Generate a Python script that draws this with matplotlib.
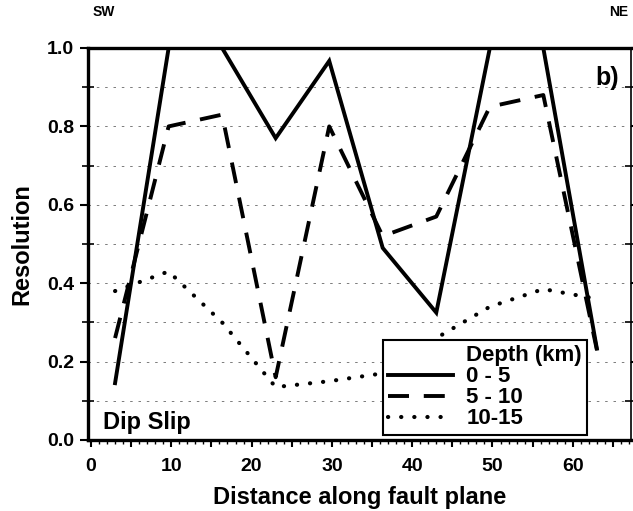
import matplotlib
matplotlib.use("Agg")
import matplotlib.pyplot as plt
from matplotlib.lines import Line2D
from matplotlib.ticker import MultipleLocator, FuncFormatter

plt.rcParams['font.family'] = ['Liberation Sans', 'DejaVu Sans']
plt.rcParams['font.weight'] = 'bold'

# Data
distance = [3.0, 9.67, 16.33, 23.0, 29.67, 36.33, 43.0, 49.67, 56.33, 63.0]
res_0_5 = [0.145, 1.0, 1.0, 0.77, 0.967, 0.49, 0.325, 1.0, 1.0, 0.233]
res_5_10 = [0.26, 0.80, 0.83, 0.16, 0.80, 0.52, 0.57, 0.85, 0.88, 0.23]
res_10_15 = [0.38, 0.43, 0.30, 0.135, 0.15, 0.17, 0.26, 0.34, 0.385, 0.36]
series_labels = ["0 - 5", "5 - 10", "10-15"]
legend_title = "Depth (km)"

fig = plt.figure(figsize=(6.33, 5.11), dpi=100)
ax = fig.add_axes([88/633, 1-440/511, 543/633, 392/511])

# grid lines at each 0.1
for gy in [0.1, 0.2, 0.3, 0.4, 0.5, 0.6, 0.7, 0.8, 0.9]:
    ax.axhline(gy, color='0.4', lw=0.6, ls=(0, (3, 7)), zorder=1)

l1, = ax.plot(distance, res_0_5, color='black', lw=2.8, ls='-', zorder=3,
              solid_joinstyle='miter')
l2, = ax.plot(distance, res_5_10, color='black', lw=2.8, ls=(0, (5.4, 3.8)), zorder=3)
l3, = ax.plot(distance, res_10_15, color='black', lw=3.0, ls=(0, (0.05, 3.1)),
              dash_capstyle='round', zorder=3)

ax.set_xlim(-0.37, 67.25)
ax.set_ylim(0, 1.0)

for side in ['left', 'bottom', 'top']:
    ax.spines[side].set_linewidth(2.4)
ax.spines['right'].set_linewidth(1.2)

ax.xaxis.set_major_locator(MultipleLocator(5))
ax.xaxis.set_minor_locator(MultipleLocator(1))
ax.xaxis.set_major_formatter(FuncFormatter(lambda v, p: f"{int(round(v))}" if int(round(v)) % 10 == 0 else ""))
ax.yaxis.set_major_locator(MultipleLocator(0.2))
ax.yaxis.set_minor_locator(MultipleLocator(0.1))
ax.yaxis.set_major_formatter(FuncFormatter(lambda v, p: f"{v:.1f}"))

ax.tick_params(axis='x', which='major', direction='out', length=5, width=1.5,
               labelsize=14, pad=8, top=False)
ax.tick_params(axis='x', which='minor', direction='out', length=3, width=1.0, top=False)
ax.tick_params(axis='y', which='major', direction='out', length=6, width=1.5,
               labelsize=14, pad=4)
ax.tick_params(axis='y', which='minor', direction='inout', length=8, width=1.2)
ax.tick_params(axis='y', which='both', right=True)

ax.set_xlabel("Distance along fault plane", fontsize=17, fontweight='bold', labelpad=8)
ax.set_ylabel("Resolution", fontsize=17, fontweight='bold', labelpad=10)

ax.text(0.027, 0.015, "Dip Slip", transform=ax.transAxes, fontsize=17,
        fontweight='bold', ha='left', va='bottom', zorder=5)
ax.text(0.978, 0.955, "b)", transform=ax.transAxes, fontsize=18,
        fontweight='bold', ha='right', va='top', zorder=5)
fig.text(93/633, 1-12/511, "SW", fontsize=10, fontweight='bold', ha='left', va='center')
fig.text(628/633, 1-12/511, "NE", fontsize=10, fontweight='bold', ha='right', va='center')

blank = Line2D([], [], color='none')
leg = ax.legend([blank, l1, l2, l3], [legend_title] + series_labels,
                loc='lower left', bbox_to_anchor=(0.543, 0.013), borderaxespad=0,
                fontsize=16, frameon=True, fancybox=False, framealpha=1,
                edgecolor='black', handlelength=2.9, handletextpad=0.6,
                labelspacing=0.0, borderpad=0.25)
leg.get_frame().set_linewidth(1.5)
leg.set_zorder(10)
for t in leg.get_texts():
    t.set_fontweight('bold')

fig.savefig("out.png", dpi=100)
